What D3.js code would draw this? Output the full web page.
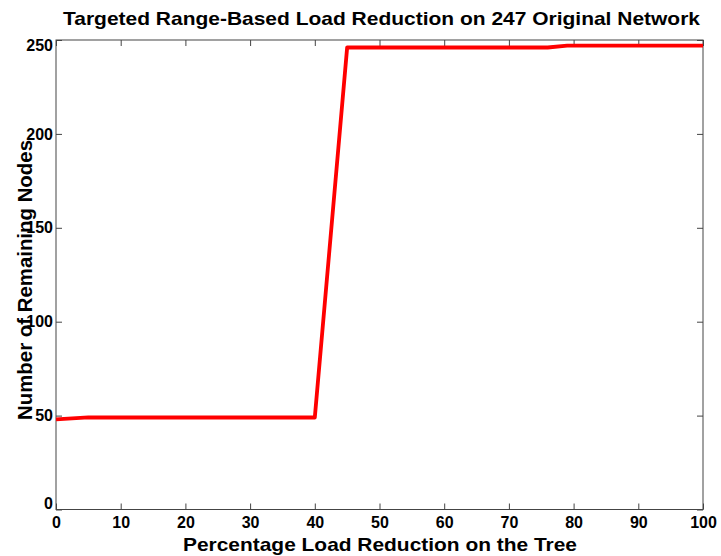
<!DOCTYPE html>
<html><head><meta charset="utf-8">
<script src="https://cdn.jsdelivr.net/npm/d3@7"></script>
<style>body{margin:0;background:#fff;} svg{display:block;}</style>
</head><body>
<script>
const loadReduction = [0, 5, 40, 45, 76, 79, 100];
const remainingNodes = [48, 49, 49, 246, 246, 247, 247];
const xTicks = [0, 10, 20, 30, 40, 50, 60, 70, 80, 90, 100];
const yTicks = [0, 50, 100, 150, 200, 250];
const title = "Targeted Range-Based Load Reduction on 247 Original Network";
const xLabel = "Percentage Load Reduction on the Tree";
const yLabel = "Number of Remaining Nodes";

const W = 721, H = 556;
const m = {left: 56, right: 18, top: 40, bottom: 46.5};
const svg = d3.select("body").append("svg").attr("width", W).attr("height", H);
const x = d3.scaleLinear().domain([0, 100]).range([m.left, W - m.right]);
const y = d3.scaleLinear().domain([0, 250]).range([H - m.bottom, m.top]);
const font = "'Liberation Sans', Arial, sans-serif";
const axisColor = "#444";

svg.append("rect").attr("x", m.left).attr("y", m.top)
  .attr("width", x(100) - x(0)).attr("height", y(0) - y(250))
  .attr("fill", "#fff").attr("stroke", axisColor).attr("stroke-width", 1);

const tl = 6;
function styleAxis(g) {
  g.select(".domain").remove();
  g.selectAll(".tick line").attr("stroke", axisColor);
  g.selectAll(".tick text").attr("fill", "#000")
    .style("font-family", font).style("font-weight", "bold").style("font-size", "16px");
}
const xAxisG = svg.append("g").attr("transform", `translate(0,${y(0)})`)
  .call(d3.axisBottom(x).tickValues(xTicks).tickSize(-tl).tickPadding(tl + 3))
  .call(styleAxis);
xAxisG.selectAll(".tick text").attr("dy", "0.6em");
svg.append("g").attr("transform", `translate(0,${y(250)})`)
  .call(d3.axisTop(x).tickValues(xTicks).tickSize(-tl).tickFormat(""))
  .call(styleAxis);
const yAxisG = svg.append("g").attr("transform", `translate(${x(0)},0)`)
  .call(d3.axisLeft(y).tickValues(yTicks).tickSize(-tl).tickPadding(3 - tl + 6))
  .call(styleAxis);
// outermost labels are nudged inside the box, as in the reference
yAxisG.selectAll(".tick text").attr("dy", d => d === 250 ? "0.68em" : d === 0 ? "-0.05em" : "0.32em");
svg.append("g").attr("transform", `translate(${x(100)},0)`)
  .call(d3.axisRight(y).tickValues(yTicks).tickSize(-tl).tickFormat(""))
  .call(styleAxis);

const pts = loadReduction.map((d, i) => [d, remainingNodes[i]]);
svg.append("path").datum(pts)
  .attr("d", d3.line().x(d => x(d[0])).y(d => y(d[1])))
  .attr("fill", "none").attr("stroke", "#ff0000").attr("stroke-width", 3.8)
  .attr("stroke-linejoin", "round");

svg.append("text").attr("x", 63).attr("y", 25)
  .attr("textLength", 637).attr("lengthAdjust", "spacingAndGlyphs")
  .style("font-family", font)
  .style("font-weight", "bold").style("font-size", "19px").text(title);
svg.append("text").attr("x", 183).attr("y", 551)
  .attr("textLength", 394).attr("lengthAdjust", "spacingAndGlyphs")
  .style("font-family", font)
  .style("font-weight", "bold").style("font-size", "19px").text(xLabel);
svg.append("text").attr("transform", `translate(32,420) rotate(-90)`)
  .attr("textLength", 280).attr("lengthAdjust", "spacingAndGlyphs")
  .style("font-family", font)
  .style("font-weight", "bold").style("font-size", "19.5px").text(yLabel);
</script>
</body></html>
